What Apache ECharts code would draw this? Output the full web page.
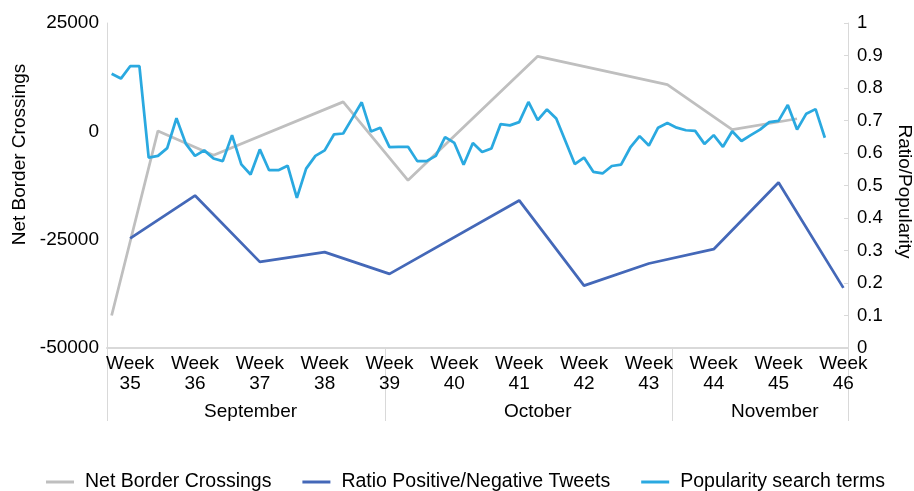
<!DOCTYPE html>
<html>
<head>
<meta charset="utf-8">
<script src="https://cdn.jsdelivr.net/npm/echarts@6/dist/echarts.min.js"></script>
<style>
  html, body { margin: 0; padding: 0; background: #fff; }
  #chart { width: 914px; height: 491px; }
</style>
</head>
<body>
<div id="chart"></div>
<script>
// day index 0 = 1 September, one slot per day up to 19 November
const weeks = [35, 36, 37, 38, 39, 40, 41, 42, 43, 44, 45, 46];
const weekDays = [2, 9, 16, 23, 30, 37, 44, 51, 58, 65, 72, 79];
const months = ["September", "October", "November"];
const monthStartDays = [0, 30, 61];
const lastDay = 79;

const borderDays = [0, 5, 11, 25, 32, 46, 60, 67, 74];
const borderValues = [-42500, 100, -5500, 6800, -11300, 17300, 10800, 400, 2900];

// weekly ratio, week 40 not reported
const ratioValues = [0.337, 0.469, 0.265, 0.295, 0.228, null, 0.454, 0.192, 0.260, 0.304, 0.509, 0.185];

// daily popularity, from day 0
const popularityValues = [
  0.844, 0.829, 0.867, 0.867, 0.586, 0.591, 0.615, 0.707, 0.629, 0.591,
  0.608, 0.583, 0.575, 0.655, 0.565, 0.534, 0.611, 0.547, 0.547, 0.561,
  0.462, 0.552, 0.591, 0.608, 0.657, 0.660, 0.708, 0.756, 0.666, 0.678,
  0.618, 0.619, 0.619, 0.575, 0.575, 0.591, 0.649, 0.631, 0.564, 0.631,
  0.603, 0.614, 0.689, 0.685, 0.695, 0.757, 0.701, 0.734, 0.706, 0.636,
  0.566, 0.586, 0.542, 0.537, 0.560, 0.564, 0.617, 0.652, 0.623, 0.678,
  0.692, 0.678, 0.670, 0.668, 0.628, 0.655, 0.619, 0.667, 0.637, 0.655,
  0.672, 0.695, 0.699, 0.748, 0.672, 0.721, 0.735, 0.647
];

const seriesNames = ["Net Border Crossings", "Ratio Positive/Negative Tweets", "Popularity search terms"];
const colors = ["#bfbfbf", "#4468b8", "#2aa9e0"];

// layout: where Excel drew the month captions (day units)
const monthLabelDays = [15, 46, 71.6];

const FONT = "Liberation Sans, Arial, sans-serif";
const AXIS_GRAY = "#d9d9d9";

const monthBounds = monthStartDays.map(d => d - 0.5).concat([lastDay + 0.5]);

var chart = echarts.init(document.getElementById("chart"));

var option = {
  animation: false,
  textStyle: { fontFamily: FONT, color: "#000" },
  color: colors,
  grid: {
    left: 107, right: 66, top: 23, bottom: 143,
    containLabel: false,
    outerBoundsMode: "none"
  },
  legend: {
    top: 467,
    left: 41,
    icon: "rect",
    itemWidth: 28,
    itemHeight: 3,
    itemGap: 31,
    textStyle: { fontSize: 19.5, fontFamily: FONT, color: "#000", padding: [0, 0, 0, 6] },
    data: seriesNames
  },
  xAxis: [
    {
      type: "value",
      min: -0.5,
      max: lastDay + 0.5,
      position: "bottom",
      splitLine: { show: false },
      axisLine: { show: true, onZero: false, lineStyle: { color: AXIS_GRAY, width: 2 } },
      axisTick: { show: false },
      axisLabel: {
        customValues: weekDays,
        formatter: function (v) {
          return "Week\n" + weeks[weekDays.indexOf(v)];
        },
        fontSize: 19,
        lineHeight: 20,
        color: "#000",
        margin: 6
      }
    },
    {
      type: "value",
      min: -0.5,
      max: lastDay + 0.5,
      position: "bottom",
      splitLine: { show: false },
      axisLine: { show: false, onZero: false },
      axisTick: {
        show: true,
        customValues: monthBounds,
        length: 73,
        lineStyle: { color: AXIS_GRAY, width: 1 }
      },
      axisLabel: {
        customValues: monthLabelDays,
        formatter: function (v) {
          return months[monthLabelDays.indexOf(v)];
        },
        fontSize: 19,
        color: "#000",
        margin: 54
      }
    }
  ],
  yAxis: [
    {
      type: "value",
      min: -50000,
      max: 25000,
      interval: 25000,
      position: "left",
      name: "Net Border Crossings",
      nameLocation: "middle",
      nameRotate: 90,
      nameGap: 77,
      nameTextStyle: { fontSize: 19, color: "#000", padding: [0, 0, 0, 62] },
      splitLine: { show: false },
      axisLine: { show: true, onZero: false, lineStyle: { color: AXIS_GRAY, width: 1 } },
      axisTick: { show: false },
      axisLabel: {
        fontSize: 19,
        color: "#000",
        margin: 8,
        formatter: function (v) { return String(v); }
      }
    },
    {
      type: "value",
      min: 0,
      max: 1,
      interval: 0.1,
      position: "right",
      name: "Ratio/Popularity",
      nameLocation: "middle",
      nameRotate: -90,
      nameGap: 47,
      nameTextStyle: { fontSize: 19, color: "#000", padding: [0, 0, 0, 12] },
      splitLine: { show: false },
      axisLine: { show: true, onZero: false, lineStyle: { color: AXIS_GRAY, width: 1 } },
      axisTick: { show: true, inside: true, length: 4, lineStyle: { color: AXIS_GRAY } },
      axisLabel: { fontSize: 18.5, color: "#000", margin: 9 }
    }
  ],
  series: [
    {
      name: seriesNames[0],
      type: "line",
      yAxisIndex: 0,
      symbol: "none",
      lineStyle: { width: 2.75, color: colors[0] },
      data: borderDays.map((d, i) => [d, borderValues[i]])
    },
    {
      name: seriesNames[1],
      type: "line",
      yAxisIndex: 1,
      symbol: "none",
      connectNulls: true,
      lineStyle: { width: 2.75, color: colors[1] },
      data: weekDays.map((d, i) => [d, ratioValues[i]])
    },
    {
      name: seriesNames[2],
      type: "line",
      yAxisIndex: 1,
      symbol: "none",
      lineStyle: { width: 2.75, color: colors[2] },
      data: popularityValues.map((v, i) => [i, v])
    }
  ]
};

chart.setOption(option);
</script>
</body>
</html>
